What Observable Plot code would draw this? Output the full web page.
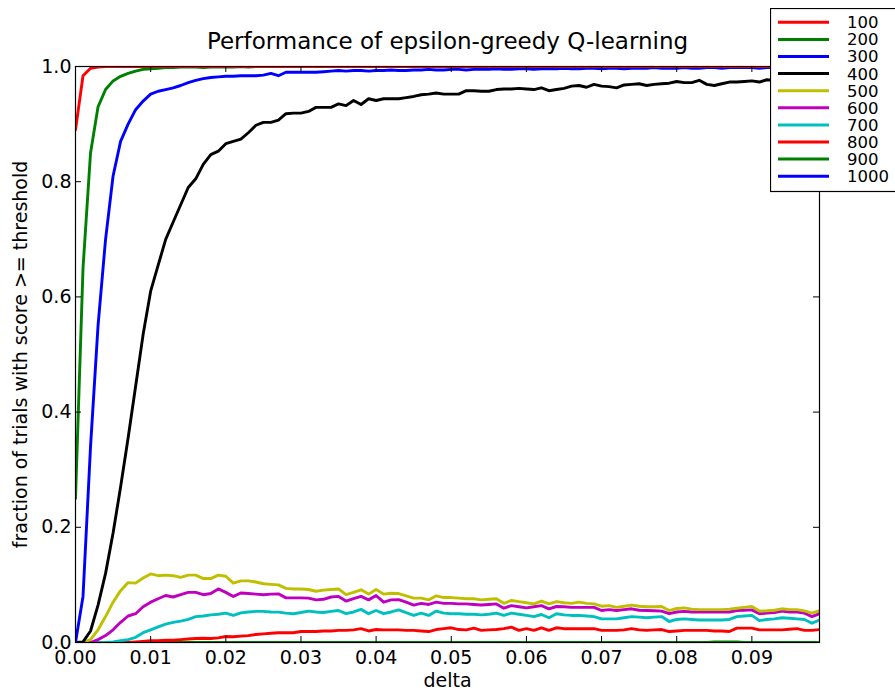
<!DOCTYPE html>
<html>
<head>
<meta charset="utf-8">
<script src="https://cdn.jsdelivr.net/npm/d3@7"></script>
<script src="https://cdn.jsdelivr.net/npm/@observablehq/plot@0.6"></script>
<style>
html, body { margin: 0; padding: 0; background: #fff; overflow: hidden; }
#wrap { position: relative; width: 895px; height: 690px; font-family: "DejaVu Sans", sans-serif; }
#legend { position: absolute; left: 770px; top: 8px; }
</style>
</head>
<body>
<div id="wrap"></div>
<script>
// ---- data ----
const titleText = "Performance of epsilon-greedy Q-learning";
const xLabel = "delta";
const yLabel = "fraction of trials with score >= threshold";
const seriesNames = ["100", "200", "300", "400", "500", "600", "700", "800", "900", "1000"];
const seriesColors = ["#ff0000", "#008000", "#0000ff", "#000000", "#bfbf00", "#bf00bf", "#00bfbf", "#ff0000", "#008000", "#0000ff"];
const xTicks = [0.00, 0.01, 0.02, 0.03, 0.04, 0.05, 0.06, 0.07, 0.08, 0.09];
const yTicks = [0.0, 0.2, 0.4, 0.6, 0.8, 1.0];
const delta = d3.range(100).map(i => +(i * 0.001).toFixed(3));

const s100 = [
0.89,0.984,0.997,0.999,1,1,1,1,1,1,
1,1,1,1,1,1,1,1,1,1,
1,1,1,1,1,1,1,1,1,1,
1,1,1,1,1,1,1,1,1,1,
1,1,1,1,1,1,1,1,1,1,
1,1,1,1,1,1,1,1,1,1,
1,1,1,1,1,1,1,1,1,1,
1,1,1,1,1,1,1,1,1,1,
1,1,1,1,1,1,1,1,1,1,
1,1,1,1,1,1,1,1,1,1];
const s200 = [
0.25,0.65,0.85,0.93,0.96,0.975,0.983,0.988,0.992,0.995,
0.996,0.997,0.998,0.998,0.999,0.999,0.999,0.998,0.999,0.999,
0.999,0.999,1,0.999,1,1,1,1,1,1,
1,1,1,1,1,1,1,1,1,1,
1,1,1,1,1,1,1,1,1,1,
1,1,1,1,1,1,1,1,1,1,
1,1,1,1,1,1,1,1,1,1,
1,1,1,1,1,1,1,1,1,1,
1,1,1,1,1,1,1,1,1,1,
1,1,1,1,1,1,1,1,1,1];
const s300 = [
0,0.08,0.34,0.55,0.70,0.81,0.87,0.90,0.925,0.94,
0.952,0.957,0.96,0.963,0.967,0.972,0.976,0.979,0.981,0.982,
0.983,0.983,0.984,0.984,0.984,0.985,0.988,0.984,0.99,0.99,
0.99,0.99,0.99,0.991,0.992,0.993,0.992,0.993,0.993,0.992,
0.993,0.993,0.994,0.993,0.993,0.994,0.994,0.995,0.994,0.994,
0.995,0.995,0.994,0.995,0.995,0.995,0.996,0.995,0.995,0.996,
0.996,0.995,0.996,0.996,0.996,0.997,0.996,0.996,0.997,0.997,
0.996,0.997,0.997,0.996,0.997,0.997,0.997,0.998,0.997,0.997,
0.997,0.998,0.997,0.997,0.998,0.998,0.997,0.998,0.998,0.998,
0.998,0.997,0.998,0.998,0.998,0.998,0.998,0.998,0.998,0.998];
const s400 = [
0,0.001,0.02,0.065,0.12,0.19,0.27,0.355,0.445,0.535,
0.61,0.655,0.70,0.73,0.76,0.79,0.805,0.83,0.847,0.853,
0.866,0.87,0.874,0.885,0.898,0.903,0.903,0.907,0.918,0.919,
0.919,0.922,0.929,0.929,0.929,0.935,0.932,0.941,0.934,0.944,
0.941,0.944,0.944,0.944,0.946,0.948,0.951,0.952,0.954,0.952,
0.952,0.952,0.958,0.958,0.957,0.957,0.96,0.961,0.961,0.962,
0.961,0.96,0.963,0.958,0.96,0.962,0.966,0.967,0.964,0.969,
0.966,0.965,0.963,0.968,0.969,0.97,0.967,0.969,0.97,0.971,
0.974,0.972,0.972,0.976,0.969,0.967,0.97,0.973,0.973,0.974,
0.975,0.973,0.977,0.976,0.978,0.975,0.977,0.978,0.976,0.978];
const s500 = [
0,0,0.005,0.022,0.045,0.07,0.09,0.104,0.103,0.112,
0.119,0.116,0.117,0.116,0.113,0.117,0.117,0.111,0.111,0.117,
0.115,0.103,0.107,0.107,0.105,0.102,0.101,0.100,0.094,0.093,
0.093,0.092,0.089,0.091,0.092,0.093,0.083,0.087,0.0915,0.084,
0.092,0.084,0.0855,0.085,0.081,0.077,0.077,0.074,0.081,0.078,
0.078,0.077,0.076,0.076,0.074,0.075,0.076,0.068,0.073,0.071,
0.069,0.067,0.072,0.067,0.071,0.069,0.068,0.070,0.068,0.067,
0.063,0.064,0.061,0.063,0.065,0.063,0.062,0.062,0.0625,0.0555,
0.059,0.060,0.058,0.057,0.057,0.057,0.057,0.058,0.0595,0.061,
0.0625,0.0545,0.055,0.056,0.0585,0.057,0.057,0.055,0.051,0.0555];
const s600 = [
0,0,0,0.005,0.012,0.022,0.035,0.046,0.05,0.062,
0.07,0.076,0.0816,0.079,0.083,0.087,0.087,0.083,0.085,0.093,
0.087,0.080,0.086,0.085,0.084,0.083,0.084,0.0845,0.0775,0.0775,
0.0775,0.077,0.074,0.075,0.079,0.08,0.072,0.076,0.08,0.074,
0.0816,0.070,0.074,0.0745,0.070,0.065,0.068,0.066,0.070,0.068,
0.068,0.067,0.067,0.066,0.065,0.066,0.067,0.0595,0.064,0.062,
0.060,0.062,0.064,0.0585,0.0625,0.062,0.061,0.061,0.061,0.061,
0.0555,0.057,0.0555,0.057,0.0585,0.056,0.0555,0.055,0.0545,0.05,
0.053,0.054,0.053,0.053,0.053,0.053,0.053,0.053,0.0555,0.056,
0.0567,0.05,0.051,0.052,0.0545,0.053,0.053,0.051,0.045,0.05];
const s700 = [
0,0,0,0,0,0.001,0.003,0.005,0.009,0.017,
0.022,0.027,0.032,0.035,0.037,0.04,0.045,0.046,0.048,0.049,
0.051,0.047,0.0515,0.053,0.054,0.054,0.053,0.0527,0.051,0.05,
0.052,0.0545,0.053,0.052,0.054,0.0555,0.05,0.053,0.0575,0.05,
0.0555,0.05,0.053,0.0567,0.052,0.047,0.051,0.047,0.0545,0.051,
0.05,0.05,0.049,0.049,0.048,0.049,0.051,0.047,0.051,0.049,
0.047,0.045,0.0486,0.043,0.05,0.048,0.047,0.047,0.046,0.045,
0.041,0.041,0.041,0.043,0.045,0.044,0.043,0.044,0.045,0.0365,
0.040,0.041,0.040,0.039,0.039,0.039,0.039,0.040,0.045,0.046,
0.047,0.038,0.040,0.041,0.043,0.042,0.041,0.040,0.0335,0.039];
const s800 = [
0,0,0,0,0,0,0,0,0.001,0.002,
0.003,0.003,0.004,0.004,0.005,0.006,0.007,0.0075,0.007,0.008,
0.0105,0.01,0.011,0.012,0.014,0.015,0.016,0.017,0.017,0.017,
0.019,0.019,0.019,0.020,0.020,0.021,0.021,0.022,0.024,0.020,
0.0225,0.022,0.022,0.022,0.021,0.021,0.020,0.019,0.0225,0.024,
0.0255,0.0225,0.022,0.025,0.021,0.022,0.0225,0.024,0.0266,0.021,
0.024,0.021,0.0255,0.021,0.0255,0.024,0.024,0.024,0.024,0.024,
0.021,0.021,0.021,0.022,0.024,0.022,0.021,0.022,0.0225,0.019,
0.020,0.021,0.021,0.021,0.021,0.020,0.020,0.019,0.025,0.025,
0.025,0.022,0.022,0.022,0.022,0.023,0.024,0.021,0.021,0.0225];
const s900 = [
0,0,0,0,0,0,0,0,0,0,
0,0,0,0,0,0,0,0,0,0,
0,0,0,0,0,0,0,0,0,0,
0,0,0,0,0,0,0,0,0,0,
0,0,0,0,0,0,0,0,0,0,
0,0,0,0,0,0,0,0,0,0,
0,0,0,0,0,0,0,0,0,0,
0,0,0,0,0,0,0,0,0,0,
0,0,0,0,0,0.001,0.001,0.001,0.001,0,
0,0,0,0,0,0,0,0,0,0];
const s1000 = [
0,0,0,0,0,0,0,0,0,0,
0,0,0,0,0,0,0,0,0,0,
0,0,0,0,0,0,0,0,0,0,
0,0,0,0,0,0,0,0,0,0,
0,0,0,0,0,0,0,0,0,0,
0,0,0,0,0,0,0,0,0,0,
0,0,0,0,0,0,0,0,0,0,
0,0,0,0,0,0,0,0,0,0,
0,0,0,0,0,0,0,0,0,0,
0,0,0,0,0,0,0,0,0,0];

const seriesValues = [s100, s200, s300, s400, s500, s600, s700, s800, s900, s1000];

// ---- build ----
const rows = seriesNames.flatMap((name, k) =>
  seriesValues[k].map((v, i) => ({series: name, k, delta: delta[i], value: v})));

const W = 895, H = 690, ML = 75, MR = 76, MT = 66, MB = 48;
const FW = W - ML - MR, FH = H - MT - MB;
const TICK = 6;

// later series drawn first so that earlier series sit on top
const lineMarks = d3.range(seriesNames.length).reverse().map(k =>
  Plot.line(rows.filter(r => r.k === k), {
    x: "delta", y: "value", stroke: seriesColors[k], strokeWidth: 2.9, clip: true
  }));

const chart = Plot.plot({
  width: W, height: H,
  marginLeft: ML, marginRight: MR, marginTop: MT, marginBottom: MB,
  style: {fontFamily: "DejaVu Sans, sans-serif", color: "#000", background: "#fff", overflow: "visible"},
  x: {domain: [0, 0.099], label: null},
  y: {domain: [0, 1], label: null},
  marks: [
    ...lineMarks,
    Plot.axisX({ticks: xTicks, tickSize: 0, tickPadding: 8, tickFormat: d3.format(".2f"), label: null, fontSize: 19}),
    Plot.axisY({ticks: yTicks, tickSize: 0, tickPadding: 4, tickFormat: d3.format(".1f"), label: null, fontSize: 19}),
    Plot.ruleX(xTicks, {x: d => d, insetTop: FH - TICK, stroke: "#000", strokeWidth: 1}),
    Plot.ruleX(xTicks, {x: d => d, insetBottom: FH - TICK, stroke: "#000", strokeWidth: 1}),
    Plot.ruleY(yTicks, {y: d => d, insetRight: FW - TICK, stroke: "#000", strokeWidth: 1}),
    Plot.ruleY(yTicks, {y: d => d, insetLeft: FW - TICK, stroke: "#000", strokeWidth: 1}),
    Plot.frame({stroke: "#000", strokeWidth: 1.2}),
    Plot.text([titleText], {frameAnchor: "top", dy: -25, fontSize: 23, lineAnchor: "middle", textAnchor: "middle", fill: "#000"}),
    Plot.text([xLabel], {frameAnchor: "bottom", dy: 38, fontSize: 19, lineAnchor: "middle", textAnchor: "middle", fill: "#000"}),
    Plot.text([yLabel], {frameAnchor: "left", dx: -55, rotate: -90, fontSize: 19, lineAnchor: "middle", textAnchor: "middle", fill: "#000"})
  ]
});

const wrap = document.getElementById("wrap");
wrap.appendChild(chart);

// ---- legend ----
const legendDiv = document.createElement("div");
legendDiv.id = "legend";
wrap.appendChild(legendDiv);
const lg = d3.select(legendDiv).append("svg").attr("width", 125).attr("height", 185);
lg.append("rect").attr("x", 0.5).attr("y", 0.5).attr("width", 160).attr("height", 183)
  .attr("fill", "#fff").attr("stroke", "#000").attr("stroke-width", 1.2);
const items = lg.selectAll("g.item").data(seriesNames).join("g")
  .attr("class", "item")
  .attr("transform", (d, i) => `translate(0,${14.3 + 17.1 * i})`);
items.append("line").attr("x1", 8).attr("x2", 59).attr("y1", 0).attr("y2", 0)
  .attr("stroke", (d, i) => seriesColors[i]).attr("stroke-width", 3);
items.append("text").attr("x", 77).attr("y", 0).attr("dy", "0.36em")
  .attr("font-family", "DejaVu Sans, sans-serif").attr("font-size", 16.5).attr("fill", "#000")
  .text(d => d);
</script>
</body>
</html>
